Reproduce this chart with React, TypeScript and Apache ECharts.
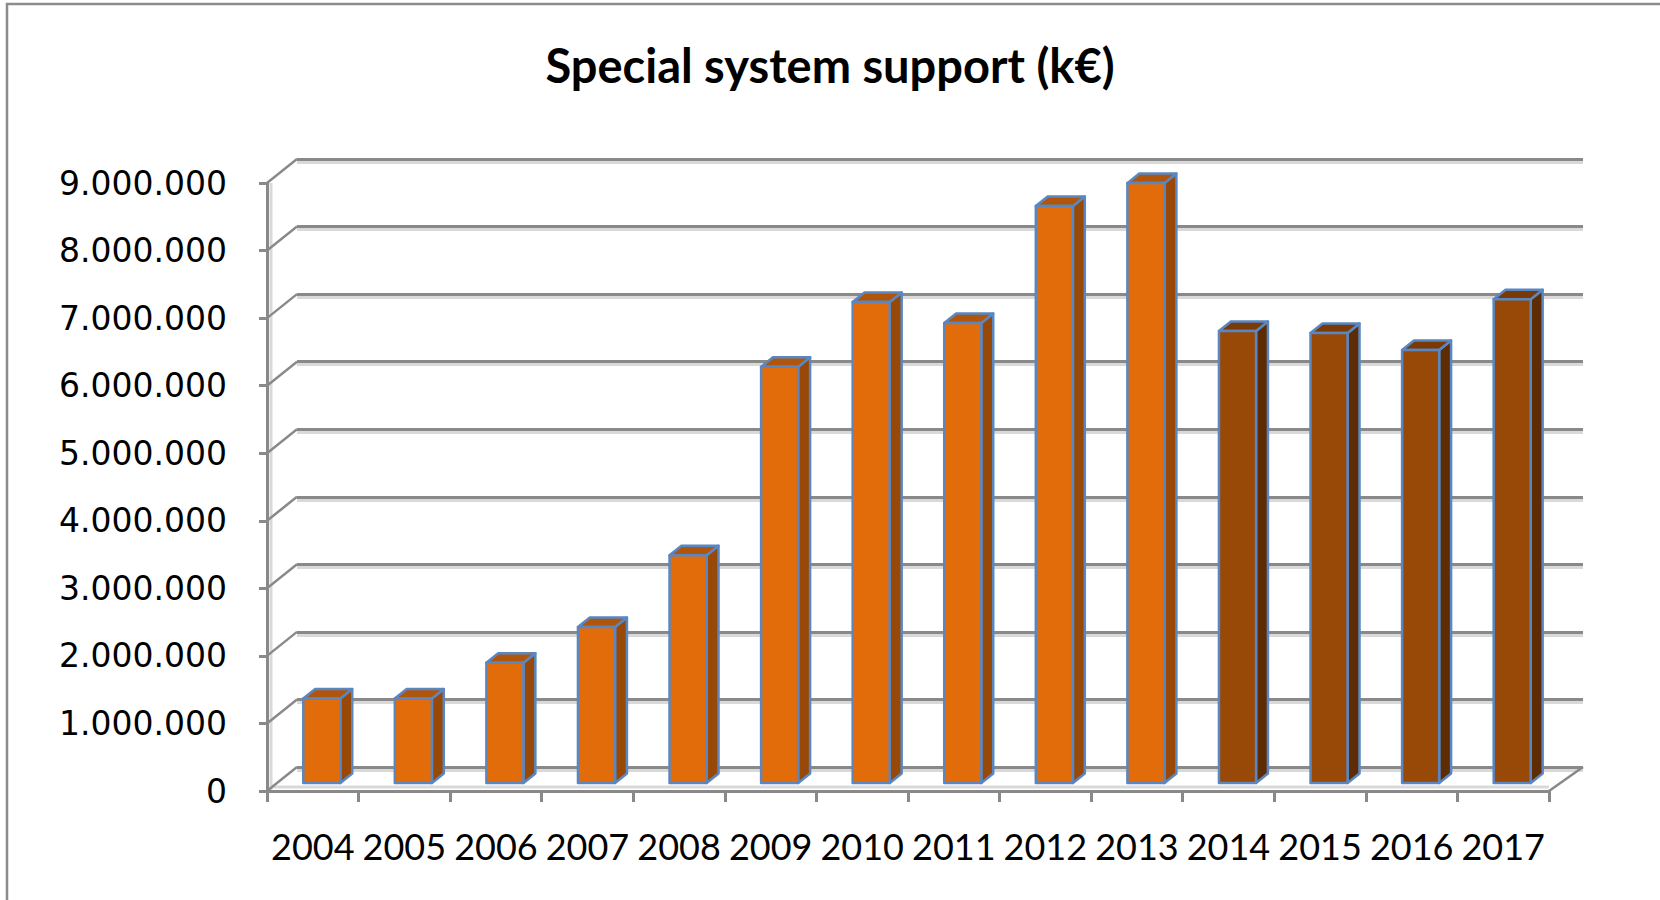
import React, { useEffect, useRef } from "react";
import * as echarts from "echarts";

// ---- data ----
const chartTitle = "Special system support (k€)";
const years = ["2004", "2005", "2006", "2007", "2008", "2009", "2010", "2011", "2012", "2013", "2014", "2015", "2016", "2017"];
const supportValues = [1250000, 1250000, 1780000, 2310000, 3370000, 6160000, 7120000, 6810000, 8540000, 8880000, 6690000, 6660000, 6410000, 7160000];
const brownYears = ["2014", "2015", "2016", "2017"];
const yTicks = [0, 1000000, 2000000, 3000000, 4000000, 5000000, 6000000, 7000000, 8000000, 9000000];

// ---- style constants ----
const DX = 30; // 3D depth offset x
const DY = 24; // 3D depth offset y (upwards)
const F1 = 1 / 3; // front face depth fraction
const F2 = 0.73; // back face depth fraction
const GRID_LEFT = 267;
const GRID_TOP = 183;
const GRID_W = 1282;
const GRID_H = 608;

const ORANGE = { front: "#E36C0A", side: "#984807", top: "#B0560C" };
const BROWN = { front: "#984807", side: "#5E2C04", top: "#7A3A06" };
const EDGE = "#5A87C2";
const AXIS_GRAY = "#898989";
const LIGHT_GRAY = "#d9d9d9";

const fmt = (v: number) => String(v).replace(/\B(?=(\d{3})+(?!\d))/g, ".");

export default function App() {
  const ref = useRef<HTMLDivElement>(null);
  useEffect(() => {
    if (!ref.current) return;
    const chart = echarts.init(ref.current, undefined, { renderer: "svg" });
    const yMax = yTicks[yTicks.length - 1];
    const backAxis = (gridIndex: number, color: string, z: number) => ({
      type: "value",
      gridIndex,
      min: 0,
      max: yMax,
      interval: 1000000,
      z,
      axisLine: { show: false },
      axisTick: { show: false },
      axisLabel: { show: false },
      splitLine: { show: true, lineStyle: { color, width: 3 } },
    });
    const option: any = {
      animation: false,
      backgroundColor: "#ffffff",
      title: {
        text: chartTitle,
        left: "center",
        top: 36,
        textStyle: { fontFamily: "Lato", fontWeight: "bold", fontSize: 47, color: "#000" },
      },
      graphic: [
        {
          type: "polyline",
          shape: { points: [[7, 900], [7, 4], [1660, 4]] },
          style: { stroke: "#8c8c8c", lineWidth: 2.5, fill: "none" },
          silent: true,
        },
      ],
      grid: [
        { left: GRID_LEFT, top: GRID_TOP, width: GRID_W, height: GRID_H },
        { left: GRID_LEFT + DX, top: GRID_TOP - DY, width: GRID_W + 4, height: GRID_H },
        { left: GRID_LEFT + DX, top: GRID_TOP - DY + 3, width: GRID_W + 4, height: GRID_H },
      ],
      xAxis: [
        {
          type: "category",
          gridIndex: 0,
          data: years,
          boundaryGap: true,
          z: 3,
          axisLine: { lineStyle: { color: AXIS_GRAY, width: 3 } },
          axisTick: { show: true, interval: 0, length: 11, lineStyle: { color: AXIS_GRAY, width: 3 } },
          axisLabel: { interval: 0, margin: 37, fontFamily: "Lato", fontSize: 36, color: "#000" },
          splitLine: { show: false },
        },
        { type: "category", gridIndex: 1, data: years, show: false },
        { type: "category", gridIndex: 2, data: years, show: false },
      ],
      yAxis: [
        {
          type: "value",
          gridIndex: 0,
          min: 0,
          max: yMax,
          interval: 1000000,
          z: 3,
          axisLine: { show: true, lineStyle: { color: AXIS_GRAY, width: 3 } },
          axisTick: { show: true, length: 8, lineStyle: { color: AXIS_GRAY, width: 3 } },
          axisLabel: { margin: 40, fontFamily: "DejaVu Sans", fontSize: 33, color: "#000", formatter: (v: number) => fmt(v) },
          splitLine: { show: false },
        },
        backAxis(1, AXIS_GRAY, 1),
        backAxis(2, LIGHT_GRAY, 0),
      ],
      series: [
        {
          type: "custom",
          name: "walls",
          xAxisIndex: 0,
          yAxisIndex: 0,
          silent: true,
          clip: false,
          z: 2,
          data: yTicks.map((v) => [0, v]),
          encode: { x: 0, y: 1 },
          renderItem: (params: any, api: any) => {
            const v = api.value(1);
            const p = api.coord([0, v]);
            const band = api.size([1, 0])[0];
            const x0 = p[0] - band / 2;
            const children: any[] = [
              {
                type: "line",
                shape: { x1: x0, y1: p[1], x2: x0 + DX, y2: p[1] - DY },
                style: { stroke: AXIS_GRAY, lineWidth: 2.5 },
              },
            ];
            if (v === 0) {
              const pr = api.coord([years.length - 1, 0]);
              const pt = api.coord([0, yMax]);
              const xr = pr[0] + band / 2;
              children.unshift(
                {
                  type: "line",
                  shape: { x1: x0 + 3, y1: pr[1] - 4, x2: xr, y2: pr[1] - 4 },
                  style: { stroke: LIGHT_GRAY, lineWidth: 3 },
                },
                {
                  type: "line",
                  shape: { x1: x0 + 4, y1: pt[1], x2: x0 + 4, y2: pr[1] },
                  style: { stroke: LIGHT_GRAY, lineWidth: 3 },
                }
              );
              children.push({
                type: "line",
                shape: { x1: xr, y1: pr[1], x2: xr + DX + 4, y2: pr[1] - DY },
                style: { stroke: AXIS_GRAY, lineWidth: 2.5 },
              });
            }
            return { type: "group", children };
          },
        },
        {
          type: "custom",
          name: "support",
          xAxisIndex: 0,
          yAxisIndex: 0,
          clip: false,
          z: 5,
          data: years.map((y, i) => [i, supportValues[i]]),
          encode: { x: 0, y: 1 },
          renderItem: (params: any, api: any) => {
            const i = api.value(0);
            const v = api.value(1);
            const base = api.coord([i, 0]);
            const top = api.coord([i, v]);
            const band = api.size([1, 0])[0];
            const w = band * 0.405;
            const cx = base[0] + DX * F1 - 1;
            const x0 = cx - w / 2;
            const x1 = cx + w / 2;
            const yb = base[1] - DY * F1;
            const yt = top[1] - DY * F1;
            const ddx = DX * (F2 - F1);
            const ddy = DY * (F2 - F1);
            const c = brownYears.indexOf(years[i]) >= 0 ? BROWN : ORANGE;
            const edge = { stroke: EDGE, lineWidth: 2.5, lineJoin: "round" };
            return {
              type: "group",
              children: [
                {
                  type: "polygon",
                  shape: { points: [[x1, yb], [x1 + ddx, yb - ddy], [x1 + ddx, yt - ddy], [x1, yt]] },
                  style: { fill: c.side, ...edge },
                },
                {
                  type: "polygon",
                  shape: { points: [[x0, yt], [x1, yt], [x1 + ddx, yt - ddy], [x0 + ddx, yt - ddy]] },
                  style: { fill: c.top, ...edge },
                },
                {
                  type: "polygon",
                  shape: { points: [[x0, yb], [x1, yb], [x1, yt], [x0, yt]] },
                  style: { fill: c.front, ...edge },
                },
              ],
            };
          },
        },
      ],
    };
    chart.setOption(option);
    return () => chart.dispose();
  }, []);
  return (
    <div
      ref={ref}
      style={{ position: "fixed", left: 0, top: 0, width: 1660, height: 900, background: "#fff" }}
    />
  );
}
